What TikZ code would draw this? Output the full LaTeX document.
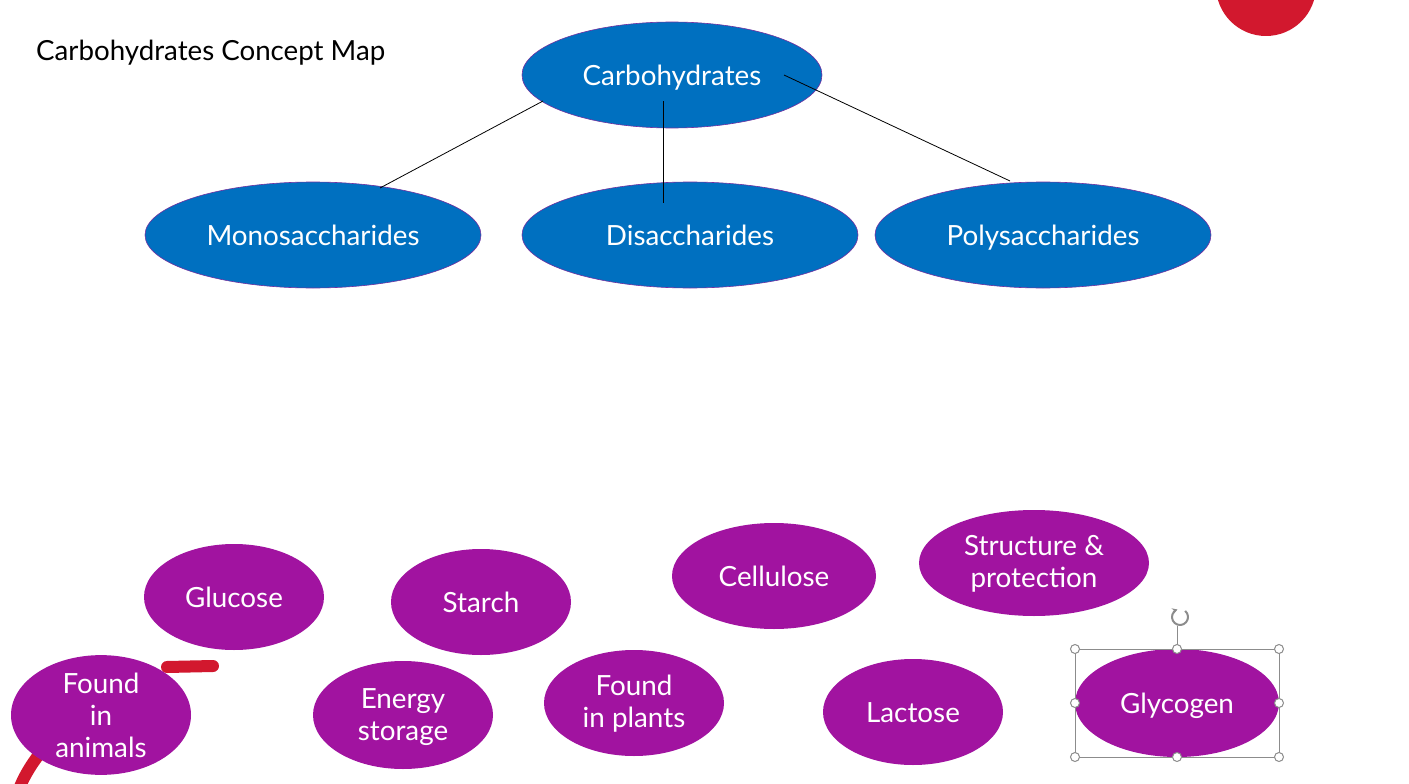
\documentclass[tikz,border=0pt]{standalone}
\usepackage{fontspec}
\setmainfont{Lato}
\usetikzlibrary{shapes.geometric,arrows.meta}
\definecolor{cblue}{RGB}{0,112,192}
\definecolor{cborder}{RGB}{112,48,160}
\definecolor{cpurple}{RGB}{161,19,160}
\definecolor{cred}{RGB}{210,24,46}
\definecolor{cgray}{RGB}{140,140,140}
\begin{document}
\begin{tikzpicture}[x=1pt,y=-1pt,
  blueell/.style={ellipse,fill=cblue,draw=cborder,line width=0.6pt,inner sep=0pt,text=white,minimum height=106pt,font=\fontsize{27.8}{32}\selectfont,oneline},
  purpell/.style={ellipse,fill=cpurple,inner sep=0pt,text=white,align=center,minimum height=106pt,font=\fontsize{27.8}{32}\selectfont},
  oneline/.style={text height=20pt,text depth=0pt},
  link/.style={draw=black,line width=0.8pt},
  handle/.style={circle,draw=cgray,fill=white,line width=1pt,minimum size=9pt,inner sep=0pt},
  redink/.style={draw=cred,line width=12pt,line cap=round}
]
\path[use as bounding box] (0,0) rectangle (1409,784);
\clip (0,0) rectangle (1409,784);
\fill[white] (0,0) rectangle (1409,784);

% title
\node[anchor=west,inner sep=0pt,font=\fontsize{27.7}{32}\selectfont,oneline] (title) at (36,51) {Carbohydrates Concept Map};

% decorative red circle
\fill[cred] (1266,-14) circle (50);

% top level
\node[blueell,minimum width=300pt] (carb) at (672,75) {Carbohydrates};
\node[blueell,minimum width=336pt] (mono) at (313,235) {Monosaccharides};
\node[blueell,minimum width=336pt] (di) at (690,235) {Disaccharides};
\node[blueell,minimum width=336pt] (poly) at (1043,235) {Polysaccharides};

% connectors
\coordinate (c1) at (543,101);
\coordinate (m1) at (380,188);
\coordinate (c2) at (663,101);
\coordinate (d1) at (663,203);
\coordinate (c3) at (784,75);
\coordinate (p1) at (1010,181);
\draw[link] (c1) -- (m1);
\draw[link] (c2) -- (d1);
\draw[link] (c3) -- (p1);

% red ink strokes
\draw[redink] (167,667) -- (213,666);
\draw[redink,line cap=butt] (44,748) .. controls (33,762) and (24,775) .. (18,792);

% bottom ellipses
\node[purpell,oneline,minimum width=180pt] (glucose) at (234,597) {Glucose};
\node[purpell,oneline,minimum width=180pt] (starch) at (481,602) {Starch};
\node[purpell,oneline,minimum width=204pt] (cellulose) at (774,576) {Cellulose};
\node[purpell,minimum width=230pt,text depth=4pt] (struct) at (1034,563) {Structure \&\\protection};
\node[purpell,minimum width=180pt,minimum height=108pt] (animals) at (101,715) {Found\\in\\animals};
\node[purpell,minimum width=180pt,minimum height=108pt,text depth=0pt] (energy) at (403,715) {Energy\\storage};
\node[purpell,minimum width=180pt,text depth=3pt] (plants) at (634,703) {Found\\in plants};
\node[purpell,oneline,minimum width=180pt] (lactose) at (913,712) {Lactose};
\node[purpell,oneline,minimum width=204pt,minimum height=108pt] (glycogen) at (1177,703) {Glycogen};

% selection box on glycogen
\draw[cgray,line width=1pt] (1075,649) rectangle (1279,757);
\draw[cgray,line width=1pt] (1177,649) -- (1177,626);
\draw[cgray,line width=2pt,-{Stealth[length=5pt,width=6pt]}] (1180,617) ++(-50:8) arc[start angle=-50,end angle=250,radius=8];
\node[handle] (h1) at (1075,649) {};
\node[handle] (h2) at (1177,649) {};
\node[handle] (h3) at (1279,649) {};
\node[handle] (h4) at (1075,703) {};
\node[handle] (h5) at (1279,703) {};
\node[handle] (h6) at (1075,757) {};
\node[handle] (h7) at (1177,757) {};
\node[handle] (h8) at (1279,757) {};
\end{tikzpicture}
\end{document}
